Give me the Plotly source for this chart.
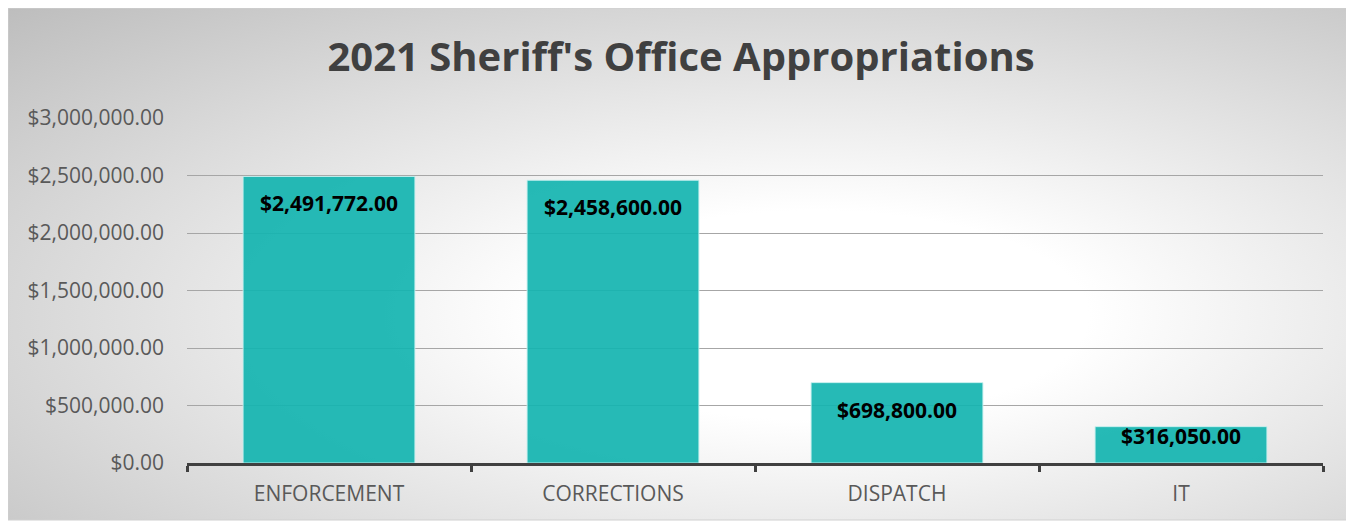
import base64
import plotly.graph_objects as go

categories = ['ENFORCEMENT', 'CORRECTIONS', 'DISPATCH', 'IT']
appropriations = [2491772.00, 2458600.00, 698800.00, 316050.00]
tick_vals = [0, 500000, 1000000, 1500000, 2000000, 2500000, 3000000]
tick_text = ['$0.00', '$500,000.00', '$1,000,000.00', '$1,500,000.00',
             '$2,000,000.00', '$2,500,000.00', '$3,000,000.00']

# page body adds an 8px margin, so the figure is drawn at (8, 8)
W, H = 1346, 513
ml, mr, mt, mb = 179, 31, 110, 58
pw, ph = W - ml - mr, H - mt - mb
y_max = 3000000

# chart area (grey radial background) in figure pixel coords
cx0, cy0, cx1, cy1 = 0, 0, 1344, 512

svg = f'''<svg xmlns="http://www.w3.org/2000/svg" width="{cx1-cx0}" height="{cy1-cy0}" preserveAspectRatio="none">
<defs><radialGradient id="g" cx="0.6" cy="0.6" r="0.85">
<stop offset="0" stop-color="#ffffff"/><stop offset="0.24" stop-color="#ffffff"/><stop offset="1" stop-color="#bdbdbd"/></radialGradient></defs>
<rect width="100%" height="100%" fill="url(#g)"/></svg>'''
bg = 'data:image/svg+xml;base64,' + base64.b64encode(svg.encode()).decode()

px_x = lambda x: (x - ml) / pw
px_y = lambda y: (H - mb - y) / ph

fig = go.Figure()
fig.add_trace(go.Bar(
    x=categories, y=appropriations,
    marker=dict(color='rgba(20,180,176,0.92)', line=dict(color='rgba(200,240,238,0.9)', width=1)),
    width=0.605,
    hoverinfo='skip',
))

# data labels, inside end of each bar (pulled up when the bar is short)
for cat, v in zip(categories, appropriations):
    bar_px = v / y_max * ph
    fig.add_annotation(x=cat, y=v, text=f'<b>${v:,.2f}</b>', showarrow=False,
                       yanchor='middle', yshift=-27 if bar_px > 60 else -9,
                       font=dict(family='Open Sans', size=21, color='#000000'))

fig.add_layout_image(dict(
    source=bg, xref='paper', yref='paper',
    x=px_x(cx0), y=px_y(cy0), sizex=(cx1 - cx0) / pw, sizey=(cy1 - cy0) / ph,
    xanchor='left', yanchor='top', sizing='stretch', layer='below'))

fig.add_shape(type='rect', xref='paper', yref='paper',
              x0=px_x(cx0), x1=px_x(cx1), y0=px_y(cy1), y1=px_y(cy0),
              line=dict(color='#d0d0d0', width=1), layer='below')

fig.update_layout(
    width=W, height=H,
    margin=dict(l=ml, r=mr, t=mt, b=mb),
    paper_bgcolor='#ffffff', plot_bgcolor='rgba(0,0,0,0)',
    font=dict(family='Open Sans', color='#595959'),
    title=dict(text="<b>2021 Sheriff's Office Appropriations</b>",
               x=0.5, xanchor='center', xref='container', y=0.904, yanchor='middle',
               font=dict(family='Open Sans', size=40, color='#404040')),
    showlegend=False,
)
fig.update_yaxes(range=[0, y_max], tickvals=tick_vals, ticktext=tick_text,
                 showgrid=True, gridcolor='#a6a6a6', gridwidth=1, zeroline=False,
                 tickfont=dict(size=21, color='#595959'), ticklabelstandoff=22)
fig.update_xaxes(showline=True, linecolor='#404040', linewidth=3,
                 ticks='outside', tickson='boundaries', ticklen=6, tickwidth=3, tickcolor='#404040',
                 tickfont=dict(size=21, color='#595959'), ticklabelstandoff=10)

fig.write_html('out.html')
